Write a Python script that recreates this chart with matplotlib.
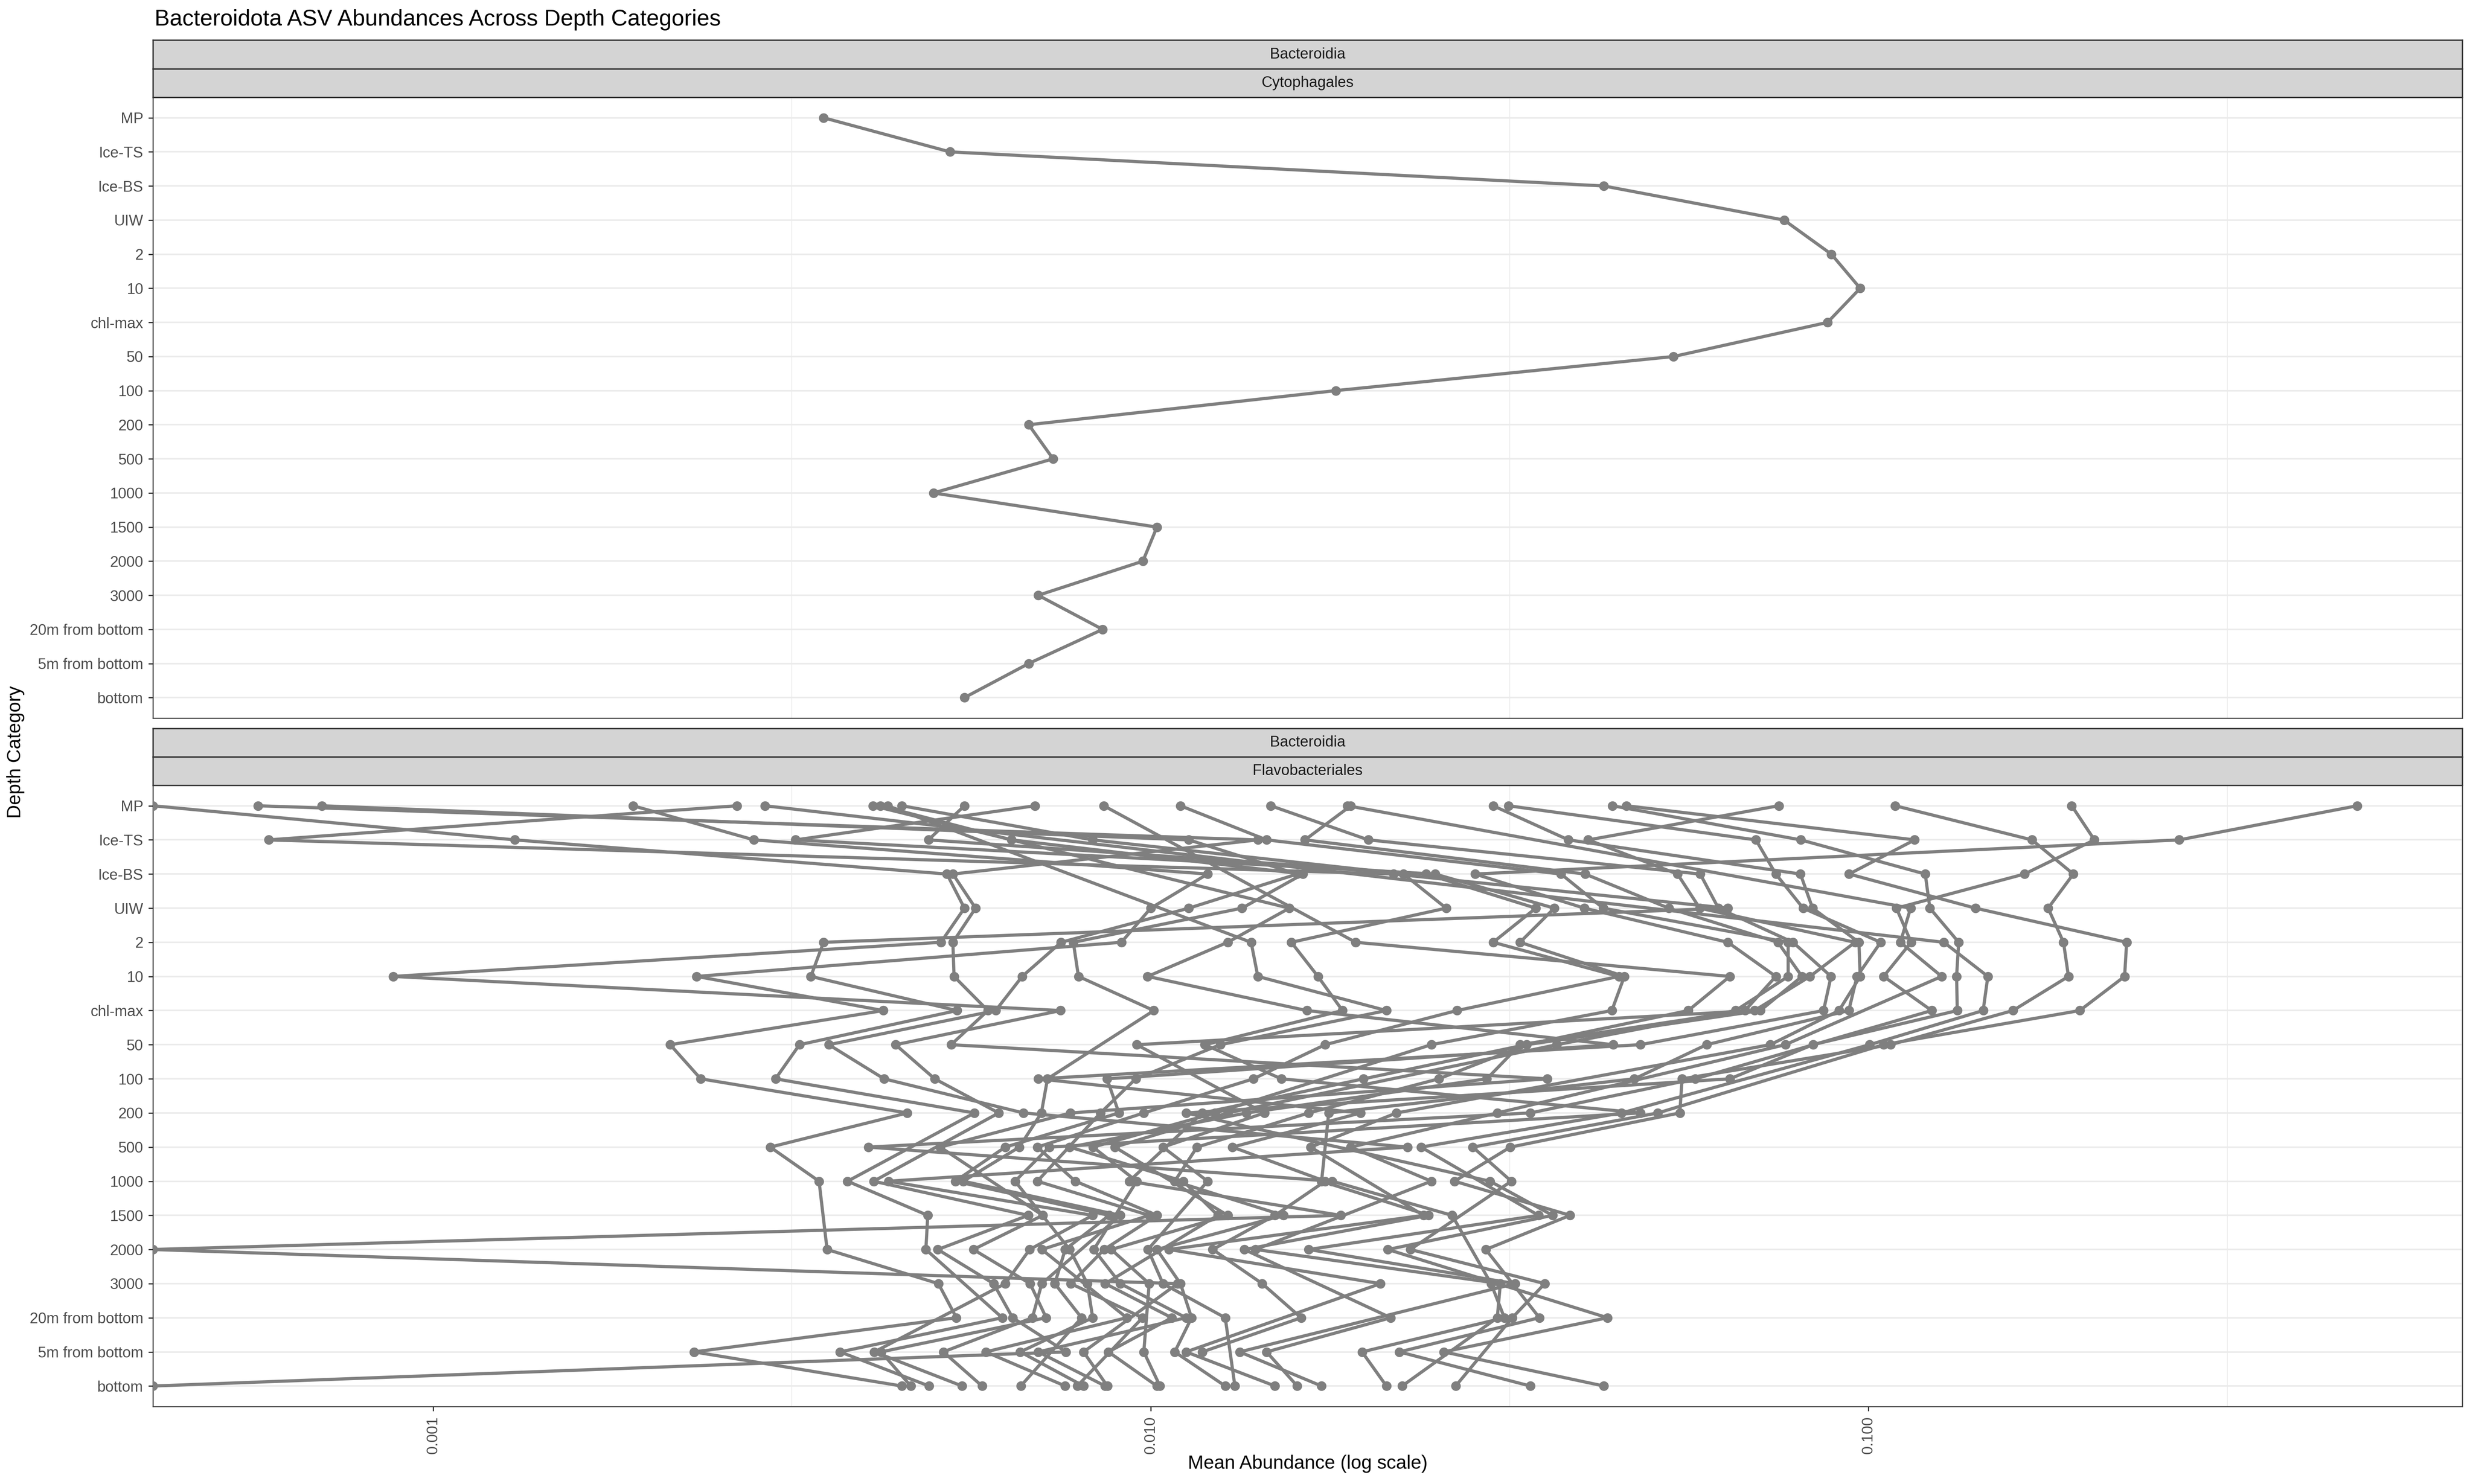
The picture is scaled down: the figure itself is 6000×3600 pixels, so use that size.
import numpy as np
import matplotlib
matplotlib.use("Agg")
import matplotlib.pyplot as plt

plt.rcParams['font.family'] = ['Liberation Sans', 'DejaVu Sans']

# ---------------- data ----------------
title = "Bacteroidota ASV Abundances Across Depth Categories"
class_label = "Bacteroidia"
order_top = "Cytophagales"
order_bottom = "Flavobacteriales"
x_label = "Mean Abundance (log scale)"
y_label = "Depth Category"

depth_categories = ["MP", "Ice-TS", "Ice-BS", "UIW", "2", "10", "chl-max", "50", "100",
                    "200", "500", "1000", "1500", "2000", "3000", "20m from bottom",
                    "5m from bottom", "bottom"]

x_tick_values = [0.001, 0.01, 0.1]
x_tick_labels = ["0.001", "0.010", "0.100"]

cytophagales_asv = [0.0035, 0.00525, 0.0428, 0.0763, 0.0888, 0.0974, 0.0877, 0.0535, 0.0181,
                    0.00676, 0.00731, 0.00498, 0.0102, 0.00975, 0.00697, 0.00857, 0.00676, 0.0055]

N = None  # ASV not observed in that depth category
flavo_asv01 = [0, 0.0013, 0.0052, 0.0055, 0.0051, 0.00088, 0.00749, 0.00441, 0.0050, 0.00614, N, 0.00411, 0.00675, 0.00505, 0.00604, 0.00642, 0.00762, 0]
flavo_asv02 = [0.0019, 0.0028, 0.012, 0.0100, 0.0091, 0.00233, 0.00424, 0.00214, 0.00236, 0.00458, 0.00295, 0.00345, N, 0.00354, 0.00506, 0.00536, 0.00231, 0.0045]
flavo_asv03 = [0.00265, 0.00059, 0.0218, 0.0637, 0.0035, 0.00336, 0.00537, 0.00324, 0.0030, 0.00568, N, 0.00378, 0.00489, 0.00486, N, 0.00621, 0.00369, 0.00491]
flavo_asv04 = [0.00057, 0.0141, 0.0053, 0.0057, 0.0053, 0.00532, 0.00593, 0.00527, 0.0357, 0.00773, 0.00509, N, 0.00707, 0.00566, 0.00679, 0.00715, 0.00421, 0.00463]
flavo_asv05 = [0.0007, 0.0113, 0.016, 0.0113, 0.0075, 0.00662, 0.00608, 0.00356, 0.00425, 0.00665, 0.0228, 0.00431, 0.0083, 0.00678, 0.00627, N, 0.00412, 0.00546]
flavo_asv06 = [0.0042, 0.0064, 0.0163, 0.0134, 0.0078, 0.00793, 0.0101, N, 0.00718, 0.00704, 0.00656, 0.00548, 0.00907, N, 0.00705, 0.00684, 0.00514, 0.00582]
flavo_asv07 = [0.0041, N, N, 0.0156, 0.0128, 0.0099, 0.0165, 0.0441, 0.00869, 0.00903, 0.00627, 0.00534, 0.00875, 0.0076, 0.00735, 0.00801, N, 0.00659]
flavo_asv08 = [0.0043, N, N, N, 0.0138, 0.0141, 0.0213, 0.0125, 0.00953, 0.00851, N, 0.00695, 0.00995, 0.00705, N, 0.00926, 0.00589, 0.0076]
flavo_asv09 = [0.0045, 0.0083, 0.0225, 0.0258, 0.0157, 0.0171, 0.0185, 0.0119, 0.0152, 0.0481, 0.00722, 0.00647, N, 0.00771, 0.00816, 0.0083, 0.00658, 0.00806]
flavo_asv10 = [0.0055, 0.0049, 0.0242, 0.0344, 0.0300, 0.0449, 0.0267, 0.0175, 0.0139, 0.00978, 0.00695, 0.00785, 0.0102, 0.00861, 0.00774, 0.00974, N, 0.0079]
flavo_asv11 = [0.0069, 0.0032, 0.0249, 0.0365, 0.0327, 0.0457, 0.0439, 0.0246, N, 0.0123, 0.00831, 0.00956, N, 0.00833, 0.00907, 0.0112, 0.00697, 0.00864]
flavo_asv12 = [0.0086, N, N, N, 0.0193, 0.0641, 0.0561, N, 0.0198, 0.0118, N, 0.00933, 0.0184, 0, 0.0109, N, 0.00806, 0.0087]
flavo_asv13 = [0.48, 0.271, 0.0283, 0.0402, 0.0637, 0.0743, 0.0673, 0.0327, 0.0294, 0.0136, 0.00771, 0.0111, 0.0124, N, 0.00864, 0.0107, 0.00873, 0.0102]
flavo_asv14 = [0.011, 0.0145, 0.0373, 0.0427, 0.0773, 0.0773, 0.0653, 0.0368, N, 0.0128, 0.00891, N, 0.0128, 0.00881, 0.00995, N, 0.00978, 0.0103]
flavo_asv15 = [0.019, 0.0164, 0.0403, 0.0527, 0.0748, 0.0808, 0.0707, 0.0334, 0.0252, 0.0166, 0.0116, 0.0108, 0.0153, 0.0102, 0.0110, 0.0114, 0.0108, 0.0127]
flavo_asv16 = [0.075, 0.0407, 0.0542, 0.0582, 0.0958, 0.0829, 0.0694, 0.00956, N, 0.0144, 0.0104, 0.0120, N, 0.00991, 0.0104, 0.0127, N, 0.0131]
flavo_asv17 = [0.0147, 0.0201, 0.0583, 0.0618, 0.0785, 0.0887, 0.0866, 0.0481, 0.00697, 0.0196, 0.0130, 0.0175, 0.0149, 0.0122, 0.0143, 0.0162, 0.0118, N]
flavo_asv18 = [0.0315, 0.0697, 0.0743, 0.0811, 0.104, 0.0964, 0.0939, 0.0595, 0.0472, 0.0177, N, 0.0173, 0.0244, 0.0135, N, 0.0216, 0.0145, 0.0160]
flavo_asv19 = [0.030, 0.0382, 0.0804, 0.0836, 0.097, 0.0974, 0.091, 0.073, N, 0.0220, 0.0167, N, 0.0240, 0.0106, 0.0209, N, 0.0112, 0.0149]
flavo_asv20 = [0.192, 0.2065, 0.165, 0.1094, 0.1147, 0.105, 0.1225, N, 0.0574, 0.0338, 0.00404, 0.0179, 0.0263, N, 0.0298, 0.0311, 0.0197, 0.0213]
flavo_asv21 = [0.0188, N, N, 0.1145, 0.1108, 0.1265, N, 0.0766, N, 0.0304, 0.0190, 0.0246, N, 0.0140, 0.0307, 0.0304, N, 0.0224]
flavo_asv22 = [0.044, 0.0805, 0.120, 0.1218, 0.1336, 0.1327, 0.133, 0.0837, 0.0641, 0.0112, N, 0.0297, 0.0363, 0.0214, N, 0.0433, 0.0256, 0.0428]
flavo_asv23 = [0.0029, N, N, N, 0.1274, 0.1467, 0.1445, 0.1004, N, 0.0453, 0.0238, N, 0.0347, 0.0166, 0.0322, N, 0.0133, 0.0173]
flavo_asv24 = [0.109, 0.169, 0.193, 0.178, 0.187, 0.190, 0.159, 0.1074, 0.055, 0.0546, 0.0317, 0.0265, 0.0384, 0.0293, N, 0.0348, 0.0222, 0.0338]
flavo_asv25 = [0.046, 0.116, 0.094, 0.141, 0.229, 0.2275, 0.197, 0.105, N, 0.0509, 0.0281, 0.0318, N, 0.0230, 0.0354, 0.0319, N, 0.0266]

flavo_asvs = [flavo_asv01, flavo_asv02, flavo_asv03, flavo_asv04, flavo_asv05, flavo_asv06,
              flavo_asv07, flavo_asv08, flavo_asv09, flavo_asv10, flavo_asv11, flavo_asv12,
              flavo_asv13, flavo_asv14, flavo_asv15, flavo_asv16, flavo_asv17, flavo_asv18,
              flavo_asv19, flavo_asv20, flavo_asv21, flavo_asv22, flavo_asv23, flavo_asv24,
              flavo_asv25]

# ---------------- styling ----------------
W, H = 6000, 3600
DPI = 300
LINE_COL = "#7F7F7F"
GRID_COL = "#EBEBEB"
BORDER_COL = "#333333"
TEXT_COL = "#4D4D4D"
STRIP_FILL = "#D4D4D4"


def px2pt(p):
    return p * 72.0 / DPI


fig = plt.figure(figsize=(W / DPI, H / DPI), dpi=DPI)
fig.patch.set_facecolor("white")


def rect(x0, y0, x1, y1):
    return [x0 / W, 1 - y1 / H, (x1 - x0) / W, (y1 - y0) / H]


PX0, PX1 = 371, 5974
ax_top = fig.add_axes(rect(PX0, 236, PX1, 1742))
ax_bot = fig.add_axes(rect(PX0, 1905, PX1, 3412))

# shared log x-range with 5% expansion (like ggplot)
all_pos = [v for s in [cytophagales_asv] + flavo_asvs for v in s if v is not None and v > 0]
lo, hi = np.log10(min(all_pos)), np.log10(max(all_pos))
pad = 0.05 * (hi - lo)
xmin, xmax = 10 ** (lo - pad), 10 ** (hi + pad)

ypos = np.arange(len(depth_categories))


def draw_series(ax, series_list):
    prepared = []
    for s in series_list:
        xs, ys = [], []
        for v, yy in zip(s, ypos):
            if v is None:
                continue
            xs.append(xmin if v == 0 else v)  # zero -> -Inf on log scale -> panel edge
            ys.append(yy)
        prepared.append((xs, ys))
    for xs, ys in prepared:
        ax.plot(xs, ys, color=LINE_COL, lw=1.85, solid_joinstyle='round', zorder=3)
    for xs, ys in prepared:
        ax.plot(xs, ys, linestyle='none', marker='o', ms=5.6, color=LINE_COL,
                markeredgewidth=0, zorder=4)


draw_series(ax_top, [cytophagales_asv])
draw_series(ax_bot, flavo_asvs)

for ax in (ax_top, ax_bot):
    ax.set_xscale('log')
    ax.set_yticks(ypos)
    ax.set_yticklabels(depth_categories)
    ax.set_xticks(x_tick_values)
    ax.set_xticks([10 ** -2.5, 10 ** -1.5, 10 ** -0.5], minor=True)
    ax.set_xticklabels(x_tick_labels)
    ax.set_xlim(xmin, xmax)
    ax.set_ylim(len(depth_categories) - 1 + 0.6, -0.6)
    ax.set_axisbelow(True)
    ax.grid(axis='y', which='major', color=GRID_COL, lw=0.9)
    ax.grid(axis='x', which='minor', color=GRID_COL, lw=0.45)
    ax.grid(axis='x', which='major', visible=False)
    ax.tick_params(axis='y', which='major', length=px2pt(11.5), width=0.7, color=BORDER_COL,
                   labelsize=8.8, labelcolor=TEXT_COL, pad=2.9)
    ax.tick_params(axis='x', which='minor', length=0, labelbottom=False)
    ax.tick_params(axis='y', which='minor', length=0)
    for sp in ax.spines.values():
        sp.set_color(BORDER_COL)
        sp.set_linewidth(0.6)
    ax.set_facecolor("white")

ax_top.tick_params(axis='x', which='major', bottom=False, labelbottom=False)
ax_bot.tick_params(axis='x', which='major', length=px2pt(11.5), width=0.7, color=BORDER_COL,
                   labelsize=8.8, labelcolor=TEXT_COL, pad=2.9, labelrotation=90)

# facet strips
def strip(y0, y1, label):
    sax = fig.add_axes(rect(PX0, y0, PX1, y1))
    sax.set_facecolor(STRIP_FILL)
    sax.set_xticks([])
    sax.set_yticks([])
    for sp in sax.spines.values():
        sp.set_color(BORDER_COL)
        sp.set_linewidth(0.8)
    sax.text(0.5, 0.5, label, transform=sax.transAxes, ha='center', va='center',
             fontsize=8.8, color="#1A1A1A")


strip(97, 167, class_label)
strip(167, 236, order_top)
strip(1767, 1836, class_label)
strip(1836, 1905, order_bottom)

# titles
fig.text(375 / W, 1 - 62 / H, title, fontsize=13.2, ha='left', va='baseline', color='black')
fig.text((PX0 + PX1) / 2 / W, 1 - 3551 / H, x_label, fontsize=11, ha='center', va='center')
fig.text(38 / W, 1 - 1824 / H, y_label, fontsize=11, ha='center', va='center', rotation=90)

fig.savefig("out.png", dpi=DPI, facecolor="white")
